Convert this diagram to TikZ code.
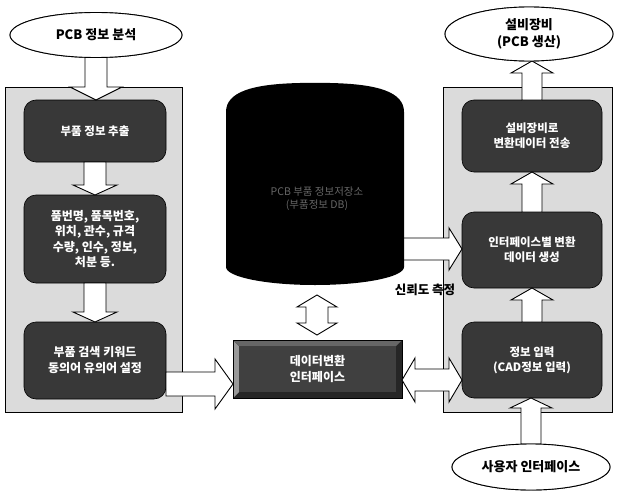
\documentclass[tikz,border=0pt]{standalone}
\usepackage{fontspec}
\setmainfont{Noto Sans CJK KR}
\usetikzlibrary{shapes.geometric,calc}
\tikzset{
  panel/.style={draw=black, line width=1pt, fill=black!14, inner sep=0pt, outer sep=0pt},
  darkbox/.style={draw=black, line width=0.6pt, fill=black!78, rounded corners=12pt, inner sep=0pt, outer sep=0pt,
    text=white, font=\bfseries\fontsize{11.5}{15}\selectfont, align=center},
  oval/.style={ellipse, draw, line width=0.9pt, fill=white, inner sep=0pt, outer sep=0pt,
    font=\bfseries\fontsize{13}{17}\selectfont, align=center},
  barrow/.style={draw=black, line width=0.9pt, fill=white, line join=miter},
  lbl/.style={font=\bfseries\fontsize{12.5}{15}\selectfont, inner sep=0pt}
}
% single vertical block arrow: from, to, shaft half, head half, head length
\newcommand\vone[5]{\draw[barrow] let \p1=(#1),\p2=(#2),\n1={sign(\y2-\y1)} in
  ({\x1-#3},\y1) -- ({\x1-#3},{\y2-(\n1)*#5}) -- ({\x1-#4},{\y2-(\n1)*#5}) -- (\x1,\y2)
  -- ({\x1+#4},{\y2-(\n1)*#5}) -- ({\x1+#3},{\y2-(\n1)*#5}) -- ({\x1+#3},\y1) -- cycle;}
% double vertical block arrow
\newcommand\vtwo[5]{\draw[barrow] let \p1=(#1),\p2=(#2),\n1={sign(\y2-\y1)} in
  (\x1,\y1) -- ({\x1+#4},{\y1+(\n1)*#5}) -- ({\x1+#3},{\y1+(\n1)*#5}) -- ({\x1+#3},{\y2-(\n1)*#5})
  -- ({\x1+#4},{\y2-(\n1)*#5}) -- (\x1,\y2) -- ({\x1-#4},{\y2-(\n1)*#5}) -- ({\x1-#3},{\y2-(\n1)*#5})
  -- ({\x1-#3},{\y1+(\n1)*#5}) -- ({\x1-#4},{\y1+(\n1)*#5}) -- cycle;}
% single horizontal block arrow
\newcommand\hone[5]{\draw[barrow] let \p1=(#1),\p2=(#2),\n1={sign(\x2-\x1)} in
  (\x1,{\y1+#3}) -- ({\x2-(\n1)*#5},{\y1+#3}) -- ({\x2-(\n1)*#5},{\y1+#4}) -- (\x2,\y1)
  -- ({\x2-(\n1)*#5},{\y1-#4}) -- ({\x2-(\n1)*#5},{\y1-#3}) -- (\x1,{\y1-#3}) -- cycle;}
% double horizontal block arrow
\newcommand\htwo[5]{\draw[barrow] let \p1=(#1),\p2=(#2),\n1={sign(\x2-\x1)} in
  (\x1,\y1) -- ({\x1+(\n1)*#5},{\y1+#4}) -- ({\x1+(\n1)*#5},{\y1+#3}) -- ({\x2-(\n1)*#5},{\y1+#3})
  -- ({\x2-(\n1)*#5},{\y1+#4}) -- (\x2,\y1) -- ({\x2-(\n1)*#5},{\y1-#4}) -- ({\x2-(\n1)*#5},{\y1-#3})
  -- ({\x1+(\n1)*#5},{\y1-#3}) -- ({\x1+(\n1)*#5},{\y1-#4}) -- cycle;}
\begin{document}
\begin{tikzpicture}[x=1pt,y=-1pt]
\useasboundingbox (0,0) rectangle (617,492);
\fill[white] (0,0) rectangle (617,492);

% panels
\node[panel, minimum width=177pt, minimum height=324pt] (lpanel) at (93.5,250) {};
\node[panel, minimum width=169pt, minimum height=324pt] (rpanel) at (527.5,250) {};

% ellipses (positions)
\node[oval, minimum width=172pt, minimum height=45pt] (pcb) at (96,35) {PCB 정보 분석};
\node[oval, minimum width=168pt, minimum height=54pt] (equip) at (529,34) {설비장비\\(PCB 생산)};
\node[oval, minimum width=158pt, minimum height=46pt] (ui) at (531,467) {사용자 인터페이스};

% left boxes
\node[darkbox, minimum width=142pt, minimum height=62pt] (box1) at (95,131) {부품 정보 추출};
\node[darkbox, minimum width=142pt, minimum height=88pt, font=\bfseries\fontsize{12}{15.5}\selectfont] (box2) at (95,239)
  {품번명, 품목번호,\\위치, 관수, 규격\\수량, 인수, 정보,\\처분 등.};
\node[darkbox, minimum width=142pt, minimum height=77pt, font=\bfseries\fontsize{12}{16}\selectfont] (box3) at (95,360.5)
  {부품 검색 키워드\\동의어 유의어 설정};

% right boxes
\node[darkbox, minimum width=140pt, minimum height=72pt] (rbox1) at (532,136) {설비장비로\\변환데이터 전송};
\node[darkbox, minimum width=140pt, minimum height=76pt] (rbox2) at (532,250) {인터페이스별 변환\\데이터 생성};
\node[darkbox, minimum width=140pt, minimum height=76pt] (rbox3) at (532,360) {정보 입력\\(CAD정보 입력)};

% data conversion box (bevelled)
\node[draw=black, line width=0.8pt, fill=black!85, minimum width=169pt, minimum height=58pt,
  inner sep=0pt, outer sep=0pt] (data) at (317.5,369) {};
\fill[black!40] (data.north west) -- (data.south west) -- ++(6,-6) -- ($(data.north west)+(6,6)$) -- cycle;
\fill[black!60] (data.north west) -- (data.north east) -- ++(-6,6) -- ($(data.north west)+(6,6)$) -- cycle;
\fill[black!75] ($(data.north west)+(6,6)$) rectangle ($(data.south east)+(-6,-6)$);
\node[text=white, font=\bfseries\fontsize{12}{16}\selectfont, align=center] (datatext) at (data.center) {데이터변환\\인터페이스};
\draw[line width=0.8pt] (data.north west) rectangle (data.south east);

% block arrows, left column
\vone{pcb.south}{box1.north}{11pt}{26pt}{13pt}
\vone{box1.south}{box2.north}{11pt}{22pt}{10pt}
\vone{box2.south}{box3.north}{11pt}{22pt}{10pt}
\coordinate (b3out) at ($(box3.east)+(0,23.5)$);
\hone{b3out}{data.west}{12pt}{25pt}{18pt}

% right column arrows
\vone{rbox3.north}{rbox2.south}{10pt}{21pt}{12pt}
\vone{rbox2.north}{rbox1.south}{10pt}{21pt}{12pt}
\vone{rbox1.north}{equip.south}{10pt}{21pt}{12pt}
\vone{ui.north}{rbox3.south}{10pt}{21pt}{10pt}

% double arrows
\coordinate (cylb) at (317,295);
\coordinate (datat) at (317,335);
\vtwo{cylb}{datat}{11pt}{20pt}{12pt}
\coordinate (dout) at ($(data.east)+(0,11)$);
\coordinate (rin) at (rbox3.west |- dout);
\htwo{dout}{rin}{11pt}{22pt}{13pt}

% arrow from cylinder to interface box
\coordinate (cyle) at (400,249);
\hone{cyle}{rbox2.west}{11pt}{21pt}{13pt}

% cylinder (database)
\fill[black] (226,112) .. controls (226,92) and (252,84) .. (300,83) -- (330,83)
  .. controls (378,84) and (404,92) .. (404,112)
  -- (404,267) arc[start angle=0, end angle=-180, x radius=89pt, y radius=18pt] -- cycle;
\node[text=black!60, font=\fontsize{10.5}{13}\selectfont, align=center] (cyltext) at (317,199)
  {PCB 부품 정보저장소\\(부품정보 DB)};

\node[lbl] (rel) at (425,290) {신뢰도 측정};

% re-draw ellipses on top
\node[oval, minimum width=172pt, minimum height=45pt] at (pcb) {PCB 정보 분석};
\node[oval, minimum width=168pt, minimum height=54pt] at (equip) {설비장비\\(PCB 생산)};
\node[oval, minimum width=158pt, minimum height=46pt] at (ui) {사용자 인터페이스};
\end{tikzpicture}
\end{document}
